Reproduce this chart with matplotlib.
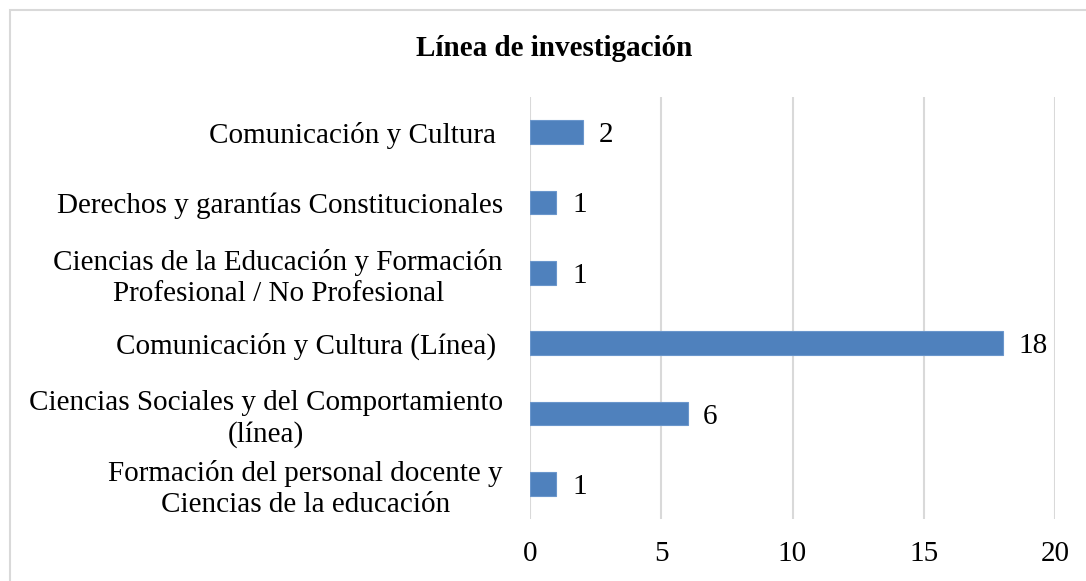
import matplotlib.pyplot as plt
from matplotlib.patches import Rectangle

# Data (top to bottom as shown)
categorias = [
    "Comunicación y Cultura ",
    "Derechos y garantías Constitucionales",
    "Ciencias de la Educación y Formación\nProfesional / No Profesional",
    "Comunicación y Cultura (Línea) ",
    "Ciencias Sociales y del Comportamiento\n(línea)",
    "Formación del personal docente y\nCiencias de la educación",
]
valores = [2, 1, 1, 18, 6, 1]
ticks_x = [0, 5, 10, 15, 20]

plt.rcParams['font.family'] = ['Liberation Serif', 'DejaVu Serif']

fig = plt.figure(figsize=(10.86, 5.81), dpi=100)
ax = fig.add_axes([530 / 1086, 1 - 519 / 581, (1055 - 530) / 1086, (519 - 97) / 581])

# chart border (cropped on right/bottom like the reference)
fig.patches.append(Rectangle((10 / 1086, -0.05), 1.2, 1 - 10 / 581 + 0.05,
                             transform=fig.transFigure, fill=False,
                             edgecolor='#d9d9d9', linewidth=1.5))

y = list(range(len(categorias)))[::-1]
ax.barh(y, valores, height=0.34, color='#4f81bd', edgecolor='#6a96cc', linewidth=0.8, zorder=3)

for yi, v in zip(y, valores):
    ax.text(v + 0.6, yi, str(v), va='center_baseline', ha='left', fontsize=21)

ax.set_xlim(0, 20)
ax.set_ylim(-0.5, len(categorias) - 0.5)
ax.set_xticks(ticks_x)
ax.set_xticklabels([str(t) for t in ticks_x], fontsize=21)
ax.set_yticks(y)
ax.set_yticklabels(categorias, fontsize=21, linespacing=1.25, multialignment='center')
ax.tick_params(axis='both', length=0)
ax.tick_params(axis='y', pad=19.5)
ax.tick_params(axis='x', pad=16)
ax.grid(axis='x', color='#d9d9d9', linewidth=1.5, zorder=0)
ax.grid(axis='y', visible=False)
for s in ax.spines.values():
    s.set_visible(False)

fig.text(554 / 1086, 1 - 48 / 581, "Línea de investigación", ha='center', va='center',
         fontsize=21, fontweight='bold')

fig.savefig('out.png', dpi=100)
